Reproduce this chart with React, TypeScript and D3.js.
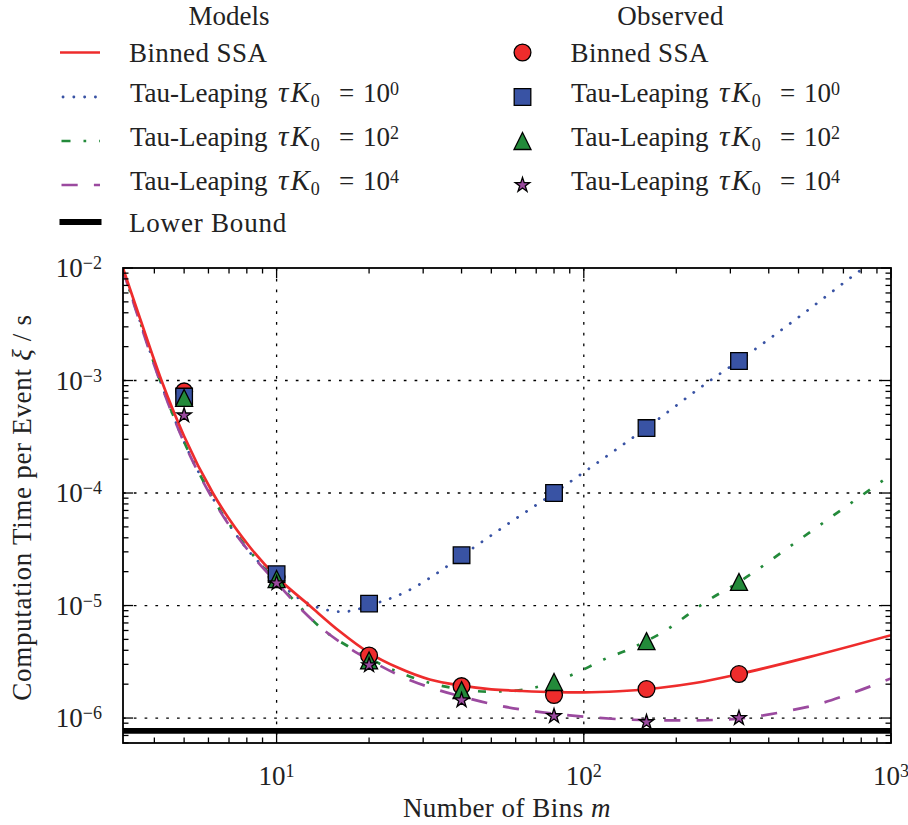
import React from 'react';
import * as d3 from 'd3';

// Observed computation time per event at each bin count
const binCounts = [5, 10, 20, 40, 80, 160, 320];
const observedBinnedSSA = [8.0e-4, 1.8e-5, 3.6e-6, 1.92e-6, 1.6e-6, 1.81e-6, 2.46e-6];
const observedTau0 = [7.2e-4, 1.9e-5, 1.04e-5, 2.8e-5, 1.0e-4, 3.78e-4, 1.49e-3];
const observedTau2 = [7.0e-4, 1.72e-5, 3.25e-6, 1.77e-6, 2.09e-6, 4.83e-6, 1.62e-5];
const observedTau4 = [4.9e-4, 1.58e-5, 2.95e-6, 1.44e-6, 1.04e-6, 9.2e-7, 1.0e-6];

// Model curves (bin count, time per event)
const modelBinnedSSAM = [3.16, 3.6, 4.22, 5, 6.2, 8.17, 10, 12.8, 16, 20, 25, 31.5, 40, 50, 63, 80, 100, 130, 175, 230, 320, 540, 1000];
const modelBinnedSSAT = [1.0e-2, 3.5e-3, 1.0e-3, 3.2e-4, 1.0e-4, 3.33e-5, 1.8e-5, 1.0e-5, 5.93e-6, 3.8e-6, 2.78e-6, 2.2e-6, 1.94e-6, 1.8e-6, 1.74e-6, 1.7e-6, 1.69e-6, 1.73e-6, 1.85e-6, 2.05e-6, 2.46e-6, 3.48e-6, 5.45e-6];

const modelTau0M = [3.16, 3.6, 4.22, 5, 6.2, 8.07, 10, 11.3, 13.1, 15.2, 16.5, 17.9, 20, 26, 36.4, 40, 56, 80, 112, 160, 258, 320, 500, 773, 850];
const modelTau0T = [9.7e-3, 3.3e-3, 9.2e-4, 2.85e-4, 9.0e-5, 3.1e-5, 1.72e-5, 1.26e-5, 1.0e-5, 8.95e-6, 8.8e-6, 9.1e-6, 1.0e-5, 1.3e-5, 2.29e-5, 2.75e-5, 5.2e-5, 1.0e-4, 1.9e-4, 3.8e-4, 1.0e-3, 1.5e-3, 3.65e-3, 9.0e-3, 1.09e-2];

const modelTau2M = [3.16, 3.6, 4.22, 5, 6.2, 8.48, 10, 11.7, 13.6, 17.7, 20, 27, 32.7, 40, 48, 56, 65, 82, 94, 108, 120, 135, 160, 175, 255, 320, 500, 700, 1000];
const modelTau2T = [9.7e-3, 3.3e-3, 9.2e-4, 2.85e-4, 9.0e-5, 2.7e-5, 1.62e-5, 1.03e-5, 6.7e-6, 4.1e-6, 3.4e-6, 2.35e-6, 2.0e-6, 1.8e-6, 1.72e-6, 1.73e-6, 1.8e-6, 2.15e-6, 2.5e-6, 3.0e-6, 3.45e-6, 3.9e-6, 4.85e-6, 5.5e-6, 1.12e-5, 1.62e-5, 3.8e-5, 7.3e-5, 1.45e-4];

const modelTau4M = [3.16, 3.6, 4.22, 5, 6.2, 8.48, 10, 11.7, 14.1, 17.7, 20, 27, 32.2, 42, 53, 67, 86, 109, 137, 180, 225, 288, 360, 457, 581, 716, 1000];
const modelTau4T = [9.6e-3, 3.2e-3, 9.0e-4, 2.8e-4, 8.8e-5, 2.63e-5, 1.6e-5, 1.0e-5, 6.2e-6, 4.0e-6, 3.3e-6, 2.19e-6, 1.84e-6, 1.5e-6, 1.29e-6, 1.16e-6, 1.07e-6, 1.01e-6, 9.7e-7, 9.55e-7, 9.55e-7, 9.7e-7, 1.03e-6, 1.15e-6, 1.33e-6, 1.6e-6, 2.25e-6];

const lowerBound = 7.7e-7;

const xMajorExponents = [1, 2, 3];
const yMajorExponents = [-6, -5, -4, -3, -2];
const tauExponents = ['0', '2', '4'];

const RED = '#ee2c2c';
const BLUE = '#3953a4';
const GREEN = '#238a3a';
const PURPLE = '#9b4a9f';

const FONT = "'Liberation Serif', 'Times New Roman', Times, serif";
const FS = 27;
const SUB = 18;

const W = 908;
const H = 825;
const L = 123, R = 891, T = 268, B = 743;

const zip = (a: number[], b: number[]) => a.map((v, i) => [v, b[i]] as [number, number]);

function squarePath(s: number) {
  const h = s / 2;
  return `M${-h},${-h}H${h}V${h}H${-h}Z`;
}
function trianglePath(s: number) {
  const h = s / 2;
  return `M0,${-h}L${h},${h}L${-h},${h}Z`;
}
const starPath = d3.symbol().type(d3.symbolStar).size(66)() as string;

function Marker({ kind, cx, cy }: { kind: string; cx: number; cy: number }) {
  const common = { stroke: '#000', strokeWidth: 1.3 };
  if (kind === 'circle') return <circle cx={cx} cy={cy} r={8.4} fill={RED} {...common} />;
  if (kind === 'square') return <path d={squarePath(16.6)} transform={`translate(${cx},${cy})`} fill={BLUE} {...common} />;
  if (kind === 'triangle') return <path d={trianglePath(17)} transform={`translate(${cx},${cy})`} fill={GREEN} {...common} />;
  return <path d={starPath} transform={`translate(${cx},${cy})`} fill={PURPLE} {...common} />;
}

function TauLabel({ x, y, exp }: { x: number; y: number; exp: string }) {
  return (
    <g>
      <text x={x} y={y}>Tau-Leaping</text>
      <text x={x + 148} y={y} fontSize={29}>
        <tspan fontStyle="italic">τ</tspan>
        <tspan fontStyle="italic" dx={2}>K</tspan>
        <tspan fontSize={SUB} dx={1} dy={5}>0</tspan>
      </text>
      <text x={x + 209} y={y}>=</text>
      <text x={x + 233} y={y}>
        10<tspan fontSize={SUB} dy={-7.5}>{exp}</tspan>
      </text>
    </g>
  );
}

export default function App() {
  const x = d3.scaleLog().domain([Math.sqrt(10), 1000]).range([L, R]);
  const y = d3.scaleLog().domain([6e-7, 1e-2]).range([B, T]);

  const line = d3
    .line<[number, number]>()
    .x((d) => x(d[0]))
    .y((d) => y(d[1]))
    .curve(d3.curveMonotoneX);

  // minor ticks
  const xMinor: number[] = [];
  for (let e = 0; e <= 2; e++)
    for (let k = 2; k <= 9; k++) {
      const v = k * Math.pow(10, e);
      if (v >= Math.sqrt(10) && v <= 1000) xMinor.push(v);
    }
  const yMinor: number[] = [];
  for (let e = -7; e <= -3; e++)
    for (let k = 2; k <= 9; k++) {
      const v = k * Math.pow(10, e);
      if (v >= 5.99e-7 && v <= 1e-2) yMinor.push(v);
    }

  const majorLen = 10;
  const minorLen = 5.5;
  const tickStroke = 1.3;

  const gridDash = '2.7,8.1';

  const rows = [52.5, 97, 141, 185, 222];
  const baselines = [62, 102, 146, 190, 231.5];

  const observed = [
    { kind: 'circle', vals: observedBinnedSSA },
    { kind: 'square', vals: observedTau0 },
    { kind: 'triangle', vals: observedTau2 },
    { kind: 'star', vals: observedTau4 },
  ];

  return (
    <svg
      width={W}
      height={H}
      viewBox={`0 0 ${W} ${H}`}
      style={{ position: 'absolute', left: 0, top: 0, background: '#fff' }}
      fontFamily={FONT}
      fontSize={FS}
      fill="#222"
    >
      <defs>
        <clipPath id="plotArea">
          <rect x={L} y={T} width={R - L} height={B - T} />
        </clipPath>
      </defs>

      {/* grid */}
      <g stroke="#000" strokeWidth={1.3} strokeDasharray={gridDash}>
        {[10, 100].map((v) => (
          <line key={'gx' + v} x1={x(v)} x2={x(v)} y1={T} y2={B} />
        ))}
        {[1e-6, 1e-5, 1e-4, 1e-3].map((v) => (
          <line key={'gy' + v} x1={L} x2={R} y1={y(v)} y2={y(v)} />
        ))}
      </g>

      {/* model curves */}
      <g clipPath="url(#plotArea)" fill="none">
        <line x1={L} x2={R} y1={y(lowerBound)} y2={y(lowerBound)} stroke="#000" strokeWidth={5.8} />
        <path d={line(zip(modelTau0M, modelTau0T)) as string} stroke={BLUE} strokeWidth={2.8} strokeDasharray="0.1,10.7" strokeLinecap="round" />
        <path d={line(zip(modelTau2M, modelTau2T)) as string} stroke={GREEN} strokeWidth={2.7} strokeDasharray="8,13,2.7,13" />
        <path d={line(zip(modelTau4M, modelTau4T)) as string} stroke={PURPLE} strokeWidth={2.7} strokeDasharray="16.2,16.2" />
        <path d={line(zip(modelBinnedSSAM, modelBinnedSSAT)) as string} stroke={RED} strokeWidth={2.7} />
      </g>

      {/* observed markers */}
      <g>
        {binCounts.map((m, i) => (
          <g key={'m' + m}>
            {observed.map((s) => (
              <Marker key={s.kind} kind={s.kind} cx={x(m)} cy={y(s.vals[i])} />
            ))}
          </g>
        ))}
      </g>

      {/* frame */}
      <rect x={L} y={T} width={R - L} height={B - T} fill="none" stroke="#000" strokeWidth={1.8} />

      {/* ticks */}
      <g stroke="#000" strokeWidth={tickStroke}>
        {xMajorExponents.map((e) => {
          const px = x(Math.pow(10, e));
          return (
            <g key={'xt' + e}>
              <line x1={px} x2={px} y1={B} y2={B - majorLen} />
              <line x1={px} x2={px} y1={T} y2={T + majorLen} />
            </g>
          );
        })}
        {xMinor.map((v) => {
          const px = x(v);
          return (
            <g key={'xm' + v}>
              <line x1={px} x2={px} y1={B} y2={B - minorLen} />
              <line x1={px} x2={px} y1={T} y2={T + minorLen} />
            </g>
          );
        })}
        {yMajorExponents.map((e) => {
          const py = y(Math.pow(10, e));
          return (
            <g key={'yt' + e}>
              <line x1={L} x2={L + majorLen} y1={py} y2={py} />
              <line x1={R} x2={R - majorLen} y1={py} y2={py} />
            </g>
          );
        })}
        {yMinor.map((v) => {
          const py = y(v);
          return (
            <g key={'ym' + v}>
              <line x1={L} x2={L + minorLen} y1={py} y2={py} />
              <line x1={R} x2={R - minorLen} y1={py} y2={py} />
            </g>
          );
        })}
      </g>

      {/* tick labels */}
      <g>
        {xMajorExponents.map((e) => (
          <text key={'xl' + e} x={x(Math.pow(10, e))} y={785} textAnchor="middle">
            10<tspan fontSize={SUB} dy={-8}>{String(e)}</tspan>
          </text>
        ))}
        {yMajorExponents.map((e) => (
          <text key={'yl' + e} x={102} y={y(Math.pow(10, e)) + 9} textAnchor="end">
            10<tspan fontSize={SUB} dy={-8}>{'\u2212' + Math.abs(e)}</tspan>
          </text>
        ))}
      </g>

      {/* axis labels */}
      <text x={(L + R) / 2} y={817} textAnchor="middle" letterSpacing={0.5}>
        Number of Bins <tspan fontStyle="italic">m</tspan>
      </text>
      <text transform={`translate(31,${(T + B) / 2 + 2}) rotate(-90)`} textAnchor="middle" letterSpacing={0.7}>
        Computation Time per Event <tspan fontStyle="italic">ξ</tspan> / s
      </text>

      {/* legend: models */}
      <text x={229} y={25} textAnchor="middle">Models</text>
      <line x1={60} x2={100} y1={rows[0]} y2={rows[0]} stroke={RED} strokeWidth={2.7} />
      <line x1={60} x2={100} y1={rows[1]} y2={rows[1]} stroke={BLUE} strokeWidth={2.8} strokeDasharray="0.1,10.7" strokeLinecap="round" strokeDashoffset={-3} />
      <line x1={60} x2={100} y1={rows[2]} y2={rows[2]} stroke={GREEN} strokeWidth={2.7} strokeDasharray="9,13,2.7,13" strokeDashoffset={-1.5} />
      <line x1={60} x2={100} y1={rows[3]} y2={rows[3]} stroke={PURPLE} strokeWidth={2.7} strokeDasharray="16.2,16.2" strokeDashoffset={-1.5} />
      <line x1={59.5} x2={101.5} y1={rows[4]} y2={rows[4]} stroke="#000" strokeWidth={5.8} />
      <text x={129} y={baselines[0]} letterSpacing={0.4}>Binned SSA</text>
      {tauExponents.map((e, i) => (
        <TauLabel key={'lt' + e} x={130} y={baselines[i + 1]} exp={e} />
      ))}
      <text x={129} y={baselines[4]} letterSpacing={0.8}>Lower Bound</text>

      {/* legend: observed */}
      <text x={670.5} y={25} textAnchor="middle" letterSpacing={0.4}>Observed</text>
      {observed.map((s, i) => (
        <Marker key={'lg' + s.kind} kind={s.kind} cx={522.5} cy={rows[i]} />
      ))}
      <text x={570.5} y={baselines[0]} letterSpacing={0.4}>Binned SSA</text>
      {tauExponents.map((e, i) => (
        <TauLabel key={'rt' + e} x={571} y={baselines[i + 1]} exp={e} />
      ))}
    </svg>
  );
}
